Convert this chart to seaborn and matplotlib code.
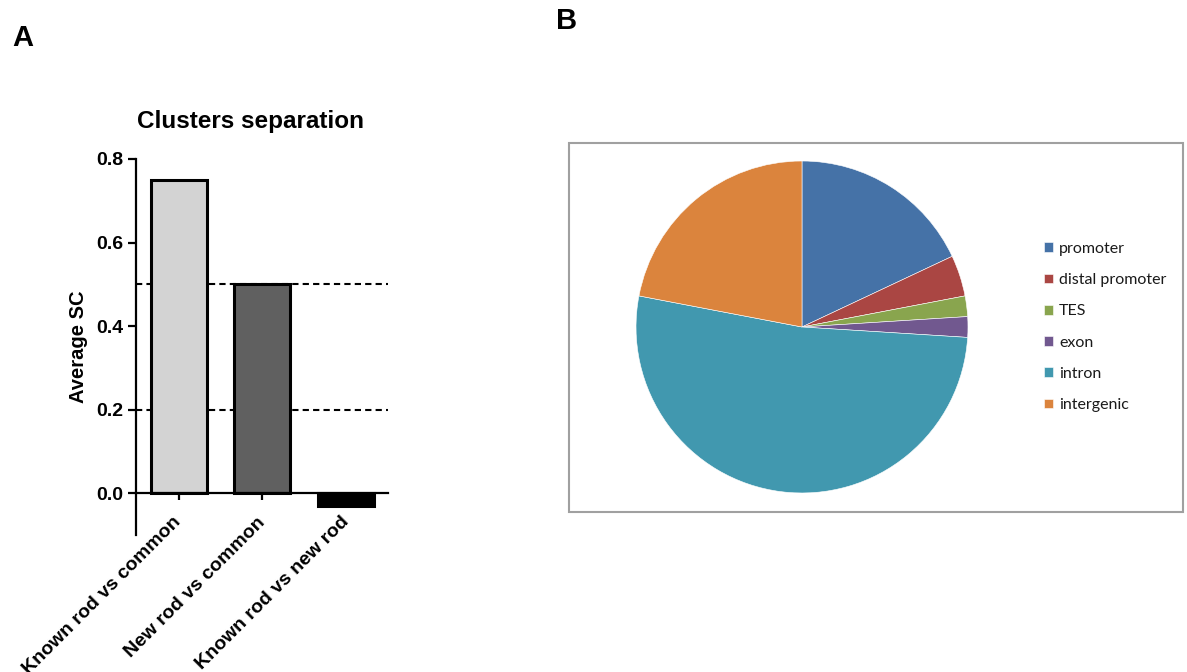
import matplotlib.pyplot as plt
import seaborn as sns
from matplotlib.patches import Rectangle

# Panel A data
comparisons = ['Known rod vs common', 'New rod vs common', 'Known rod vs new rod']
avg_sc = [0.75, 0.50, -0.03]
bar_colors = ['#d3d3d3', '#606060', '#000000']
thresholds = [0.5, 0.2]

# Panel B data
regions = ['promoter', 'distal promoter', 'TES', 'exon', 'intron', 'intergenic']
region_pct = [18, 4, 2, 2, 52, 22]
region_colors = ['#4572A7', '#AA4643', '#89A54E', '#71588F', '#4198AF', '#DB843D']

sns.set_style('ticks')
plt.rcParams['font.family'] = ['Liberation Sans', 'DejaVu Sans']
for k in ['text.color', 'axes.labelcolor', 'xtick.color', 'ytick.color', 'axes.edgecolor']:
    plt.rcParams[k] = 'black'

fig = plt.figure(figsize=(11.87, 6.72), dpi=100)

# ---- A: bar chart
ax = fig.add_axes([0.1146, 0.2039, 0.2123, 0.5595])
for t in thresholds:
    ax.axhline(t, color='black', lw=1.5, ls=(0, (3, 2)), zorder=0.5)
sns.barplot(x=comparisons, y=avg_sc, hue=comparisons, palette=bar_colors, legend=False,
            width=0.67, edgecolor='black', linewidth=2.2, saturation=1, ax=ax, zorder=2)
ax.set_xlim(-0.51, 2.5)
ax.set_ylim(-0.1, 0.8)
ax.set_yticks([0.0, 0.2, 0.4, 0.6, 0.8])
ax.set_yticklabels(['0.0', '0.2', '0.4', '0.6', '0.8'], fontsize=14, fontweight='bold')
ax.spines['right'].set_visible(False)
ax.spines['top'].set_visible(False)
ax.spines['bottom'].set_position(('data', 0))
for s in ['left', 'bottom']:
    ax.spines[s].set_linewidth(1.6)
    ax.spines[s].set_zorder(3)
ax.tick_params(axis='y', width=1.6, length=6, pad=3)
ax.tick_params(axis='x', width=1.6, length=5, pad=14)
ax.set_xticks(range(len(comparisons)))
ax.set_xticklabels(comparisons, rotation=45, ha='right', va='center',
                   rotation_mode='anchor', fontsize=14, fontweight='bold')
ax.set_ylabel('Average SC', fontsize=14.5, fontweight='bold', labelpad=6)
ax.set_xlabel('')
ax.set_title('Clusters separation', fontsize=17.5, fontweight='bold', pad=22, x=0.456)

# ---- B: pie chart
fig.patches.append(Rectangle((569 / 1187, 1 - 512 / 672), (1183 - 569) / 1187, (512 - 143) / 672,
                             transform=fig.transFigure, fill=False, edgecolor='#a0a0a0', lw=1.5))
pax = fig.add_axes([0.5358, 0.2664, 0.2797, 0.4940])
wedges, _ = pax.pie(region_pct, colors=region_colors, startangle=90, counterclock=False,
                    wedgeprops=dict(edgecolor='white', linewidth=0.4))
pax.set_xlim(-1, 1)
pax.set_ylim(-1, 1)
leg = fig.legend(wedges, regions, loc='center left', bbox_to_anchor=(1044 / 1187, 1 - 327 / 672),
                 frameon=False, handlelength=0.55, handleheight=0.55,
                 handletextpad=0.4, labelspacing=1.08, borderpad=0, borderaxespad=0,
                 prop={'family': ['Lato', 'DejaVu Sans'], 'size': 11.5})
for txt in leg.get_texts():
    txt.set_color('#1a1a1a')

fig.text(12 / 1187, 1 - 46 / 672, 'A', fontsize=21, fontweight='bold')
fig.text(556 / 1187, 1 - 29 / 672, 'B', fontsize=21, fontweight='bold')

plt.savefig('out.png', dpi=100)
